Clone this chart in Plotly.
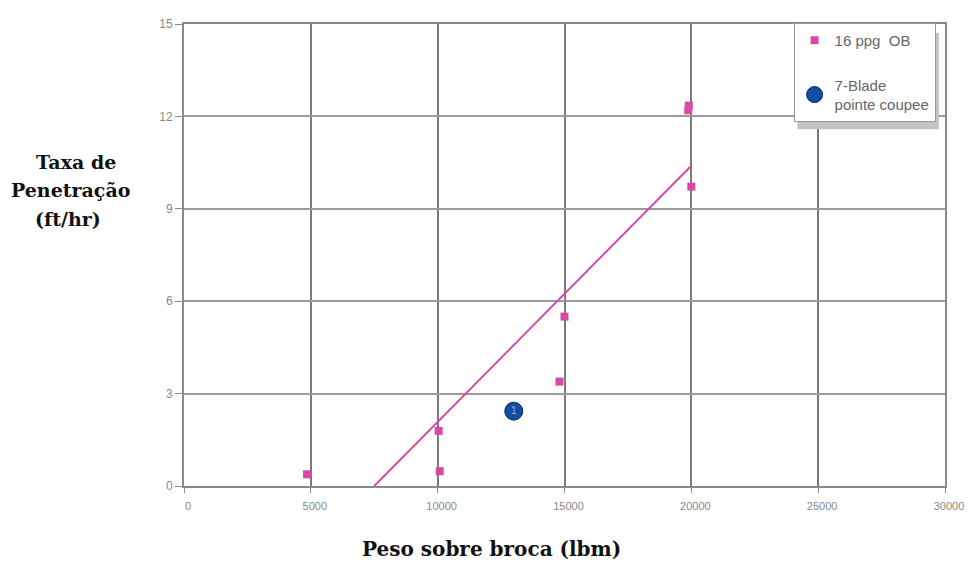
import plotly.graph_objects as go

# Data
ob_x = [4850, 10040, 10080, 14800, 15000, 19880, 19900, 20000]
ob_y = [0.38, 1.79, 0.48, 3.39, 5.5, 12.2, 12.35, 9.72]

blade_x = [13000]
blade_y = [2.43]
blade_label = ["1"]

trend_x = [7500, 20000]
trend_y = [0.0, 10.4]

x_ticks = [0, 5000, 10000, 15000, 20000, 25000, 30000]
y_ticks = [0, 3, 6, 9, 12, 15]

y_title_lines = ["Taxa de", "Penetração", "(ft/hr)"]
x_title = "Peso sobre broca (lbm)"

pink = "#d44aa6"
blue = "#0f4fa3"

fig = go.Figure()

fig.add_trace(go.Scatter(
    x=trend_x, y=trend_y, mode="lines",
    line=dict(color=pink, width=2), showlegend=False, hoverinfo="skip"))

fig.add_trace(go.Scatter(
    x=ob_x, y=ob_y, mode="markers", name="16 ppg  OB",
    legendgroup="a",
    marker=dict(symbol="square", size=8, color=pink)))

fig.add_trace(go.Scatter(
    x=blade_x, y=blade_y, mode="markers+text", name="7-Blade<br>pointe coupee",
    legendgroup="b",
    text=blade_label, textposition="middle center",
    textfont=dict(color="#9fb6dd", size=10, family="Liberation Sans"),
    marker=dict(symbol="circle", size=18, color=blue,
                line=dict(color="#0a2a5a", width=1))))

# legend drop shadow
fig.add_shape(type="rect", xref="paper", yref="paper",
              x0=0.806, x1=0.992, y0=0.772, y1=0.981,
              fillcolor="#c4c4c4", line=dict(width=0), layer="above")

title_y = [0.7015, 0.6397, 0.5778]
title_x = [-0.142, -0.1495, -0.152]
annotations = [
    dict(text="<b>%s</b>" % t, xref="paper", yref="paper", x=xx, y=yy,
         xanchor="center", yanchor="middle", showarrow=False,
         font=dict(family="DejaVu Serif", size=19, color="#111111"))
    for t, xx, yy in zip(y_title_lines, title_x, title_y)
]
annotations.append(
    dict(text="<b>%s</b>" % x_title,
         xref="paper", yref="paper", x=0.404, y=-0.137,
         xanchor="center", yanchor="middle", showarrow=False,
         font=dict(family="DejaVu Serif", size=20, color="#111111")))

fig.update_layout(
    width=965, height=558,
    margin=dict(l=176, r=26, t=9, b=80),
    paper_bgcolor="white", plot_bgcolor="white",
    font=dict(family="Liberation Sans", color="#777777", size=12),
    showlegend=True,
    legend=dict(
        x=0.801, y=1.002, xanchor="left", yanchor="top",
        bgcolor="white", bordercolor="#999999", borderwidth=1,
        font=dict(size=15, color="#666666", family="Liberation Sans"),
        tracegroupgap=22,
        traceorder="grouped",
    ),
    xaxis=dict(
        range=[0, 30000], tickvals=x_ticks,
        ticktext=[str(v) for v in x_ticks],
        showgrid=True, gridcolor="#7a7a7a", gridwidth=2,
        showline=True, linecolor="#8a8a8a", linewidth=2, mirror=True,
        ticks="outside", ticklen=5, tickcolor="#8a8a8a",
        ticklabelstandoff=4, ticklabelshift=4,
        zeroline=False, tickfont=dict(size=11, color="#888888"),
    ),
    yaxis=dict(
        range=[0, 15], tickvals=y_ticks,
        showgrid=True, gridcolor="#9a9a9a", gridwidth=2,
        showline=True, linecolor="#8a8a8a", linewidth=2, mirror=True,
        ticks="outside", ticklen=7, tickcolor="#8a8a8a",
        zeroline=False, tickfont=dict(size=12, color="#888888"),
    ),
    annotations=annotations,
)

fig.write_html("out.html")
